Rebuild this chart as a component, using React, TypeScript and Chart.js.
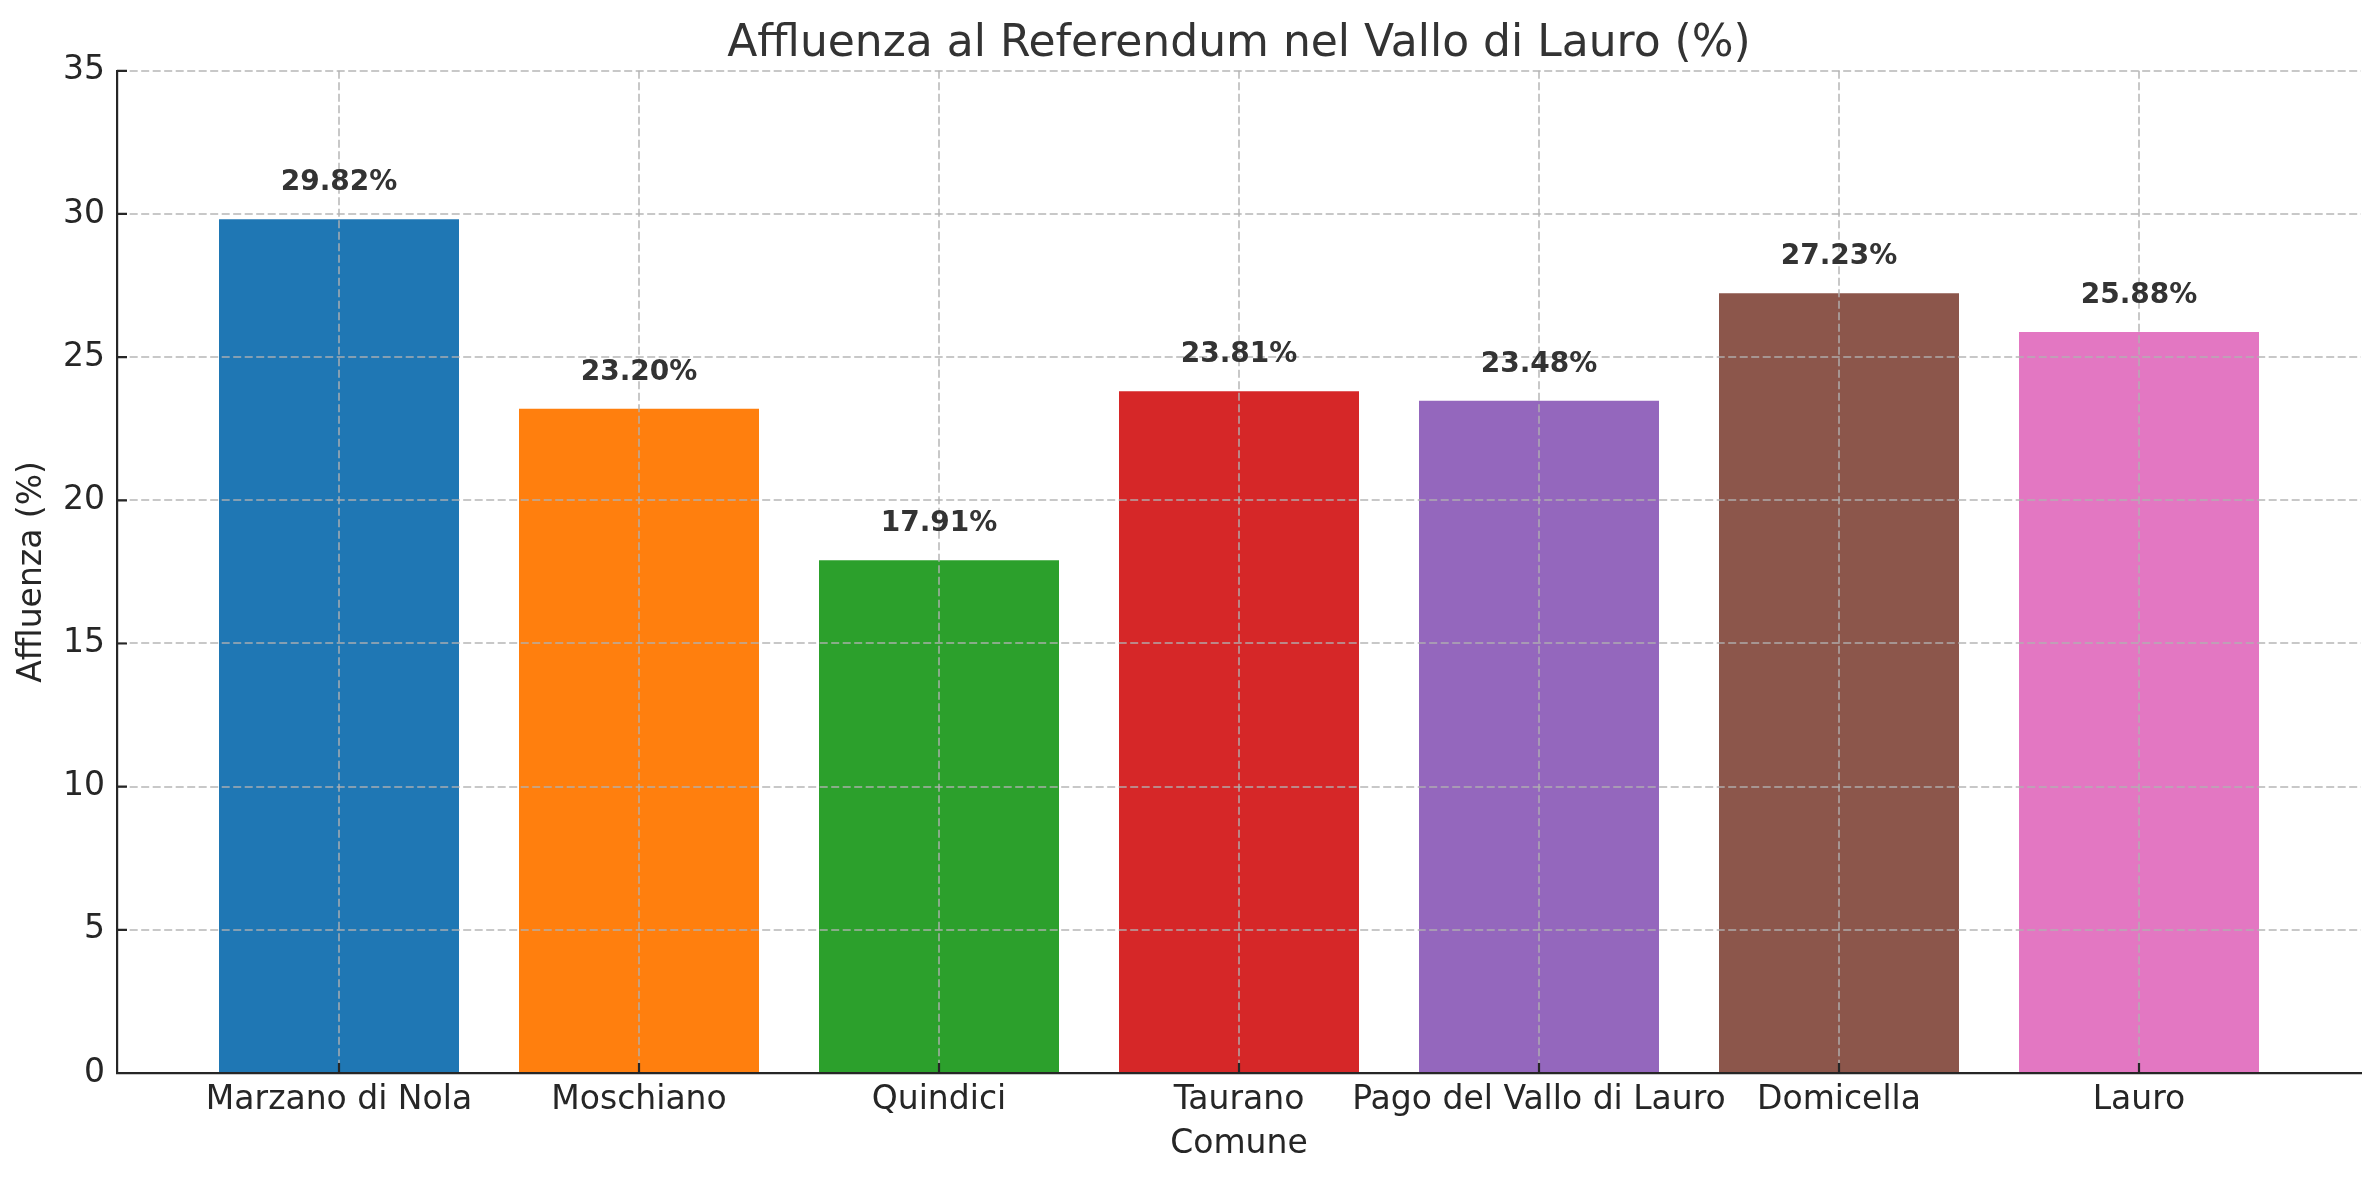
import { useEffect, useRef } from "react"
import { Chart, registerables } from "chart.js"

Chart.register(...registerables)

const comuni = [
  "Marzano di Nola",
  "Moschiano",
  "Quindici",
  "Taurano",
  "Pago del Vallo di Lauro",
  "Domicella",
  "Lauro",
]
const affluenza = [29.82, 23.2, 17.91, 23.81, 23.48, 27.23, 25.88]
const barColors = ["#1f77b4", "#ff7f0e", "#2ca02c", "#d62728", "#9467bd", "#8c564b", "#e377c2"]
const yTickValues = [0, 5, 10, 15, 20, 25, 30, 35]

const FONT = "'DejaVu Sans', sans-serif"
const INK = "#262626"
const GRID = "rgba(176,176,176,0.7)"

// matplotlib-style inward ticks + value labels over the bars
const overlay = {
  id: "overlay",
  afterDraw(chart: Chart) {
    const { ctx, chartArea, scales } = chart
    const x = scales.x
    const y = scales.y
    ctx.save()
    ctx.strokeStyle = INK
    ctx.lineWidth = 2.2
    ctx.beginPath()
    x.ticks.forEach((t) => {
      const px = x.getPixelForValue(t.value)
      ctx.moveTo(px, chartArea.bottom)
      ctx.lineTo(px, chartArea.bottom - 10)
    })
    y.ticks.forEach((t) => {
      const py = y.getPixelForValue(t.value)
      ctx.moveTo(chartArea.left, py)
      ctx.lineTo(chartArea.left + 10, py)
    })
    ctx.stroke()

    ctx.font = `bold 28px ${FONT}`
    ctx.fillStyle = "#333333"
    ctx.textAlign = "center"
    ctx.textBaseline = "alphabetic"
    chart.getDatasetMeta(0).data.forEach((bar, i) => {
      ctx.fillText(`${affluenza[i].toFixed(2)}%`, bar.x, bar.y - 29)
    })
    ctx.restore()
  },
}

function AffluenzaChart() {
  const canvasRef = useRef<HTMLCanvasElement>(null)
  const chartRef = useRef<Chart | null>(null)

  useEffect(() => {
    if (!canvasRef.current) return
    if (chartRef.current) chartRef.current.destroy()

    chartRef.current = new Chart(canvasRef.current, {
      type: "bar",
      data: {
        datasets: [
          {
            data: affluenza.map((v, i) => ({ x: i, y: v })),
            backgroundColor: barColors,
            borderWidth: 0,
            barPercentage: 0.8,
            categoryPercentage: 1,
          },
        ],
      },
      options: {
        responsive: false,
        devicePixelRatio: 1,
        animation: false,
        layout: { padding: { top: 0, right: 18, bottom: 0, left: 0 } },
        plugins: {
          legend: { display: false },
          tooltip: { enabled: false },
          title: {
            display: true,
            text: "Affluenza al Referendum nel Vallo di Lauro (%)",
            fullSize: false,
            color: "#333333",
            font: { family: FONT, size: 44, weight: "normal" },
            padding: { top: 18, bottom: 0 },
          },
        },
        scales: {
          x: {
            type: "linear",
            min: -0.74,
            max: 6.74,
            offset: false,
            afterBuildTicks: (scale) => {
              scale.ticks = comuni.map((_, i) => ({ value: i }))
            },
            afterFit: (scale) => {
              scale.height = 107
            },
            ticks: {
              autoSkip: false,
              maxRotation: 0,
              padding: 8,
              color: INK,
              font: { family: FONT, size: 33 },
              callback: (value) => comuni[value as number],
            },
            // grid drawn over the bars, like the matplotlib original
            grid: { color: GRID, lineWidth: 2, drawTicks: false, offset: false, z: 1 },
            border: { display: true, color: INK, width: 2.2, dash: [8, 3.5], z: 2 },
            title: {
              display: true,
              text: "Comune",
              color: INK,
              font: { family: FONT, size: 33 },
              padding: { top: 0, bottom: 16 },
            },
          },
          y: {
            min: 0,
            max: 35,
            afterBuildTicks: (scale) => {
              scale.ticks = yTickValues.map((v) => ({ value: v }))
            },
            afterFit: (scale) => {
              scale.width = 117
            },
            ticks: {
              padding: 12,
              color: INK,
              font: { family: FONT, size: 33 },
            },
            grid: { color: GRID, lineWidth: 2, drawTicks: false, z: 1 },
            border: { display: true, color: INK, width: 2.2, dash: [8, 3.5], z: 2 },
            title: {
              display: true,
              text: "Affluenza (%)",
              color: INK,
              font: { family: FONT, size: 33 },
              padding: { top: 13, bottom: 0 },
            },
          },
        },
      },
      plugins: [overlay],
    })

    return () => {
      if (chartRef.current) {
        chartRef.current.destroy()
        chartRef.current = null
      }
    }
  }, [])

  return <canvas ref={canvasRef} width={2379} height={1180} style={{ display: "block" }} />
}

export default function App() {
  useEffect(() => {
    document.body.style.margin = "0"
    document.body.style.overflow = "hidden"
  }, [])

  return (
    <div style={{ width: 2379, height: 1180, background: "#ffffff" }}>
      <AffluenzaChart />
    </div>
  )
}
